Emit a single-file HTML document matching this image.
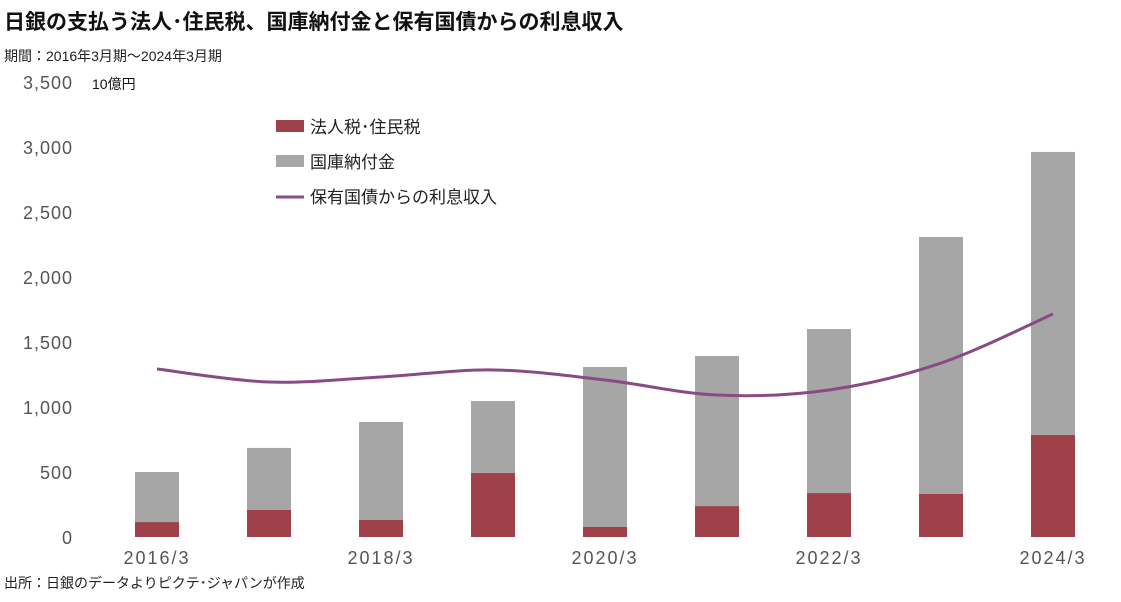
<!DOCTYPE html>
<html><head><meta charset="utf-8"><style>
body{margin:0;background:#fff;font-family:"Liberation Sans","Noto Sans CJK JP",sans-serif;}
svg text{font-family:"Liberation Sans","Noto Sans CJK JP",sans-serif;}
</style></head><body>
<svg id="chart" width="1121" height="597" viewBox="0 0 1121 597" xmlns="http://www.w3.org/2000/svg">
<text x="4" y="29" font-size="21" font-weight="bold" fill="#111">日銀の支払う法人･住民税、国庫納付金と保有国債からの利息収入</text>
<text x="4" y="61" font-size="14" fill="#222">期間：2016年3月期～2024年3月期</text>
<text x="92" y="89" font-size="14" fill="#111">10億円</text>
<text x="4" y="588" font-size="14" fill="#222">出所：日銀のデータよりピクテ･ジャパンが作成</text>
<g id="yaxis"></g>
<g id="xaxis"></g>
<g id="bars"></g>
<g id="line"></g>
<g>
<rect x="276" y="120" width="28" height="12" fill="#a0414a"/>
<text x="310" y="133" font-size="17" fill="#222">法人税･住民税</text>
<rect x="276" y="155" width="28" height="12" fill="#a6a6a6"/>
<text x="310" y="168" font-size="17" fill="#222">国庫納付金</text>
<line x1="276" y1="197" x2="304" y2="197" stroke="#8a4a86" stroke-width="3"/>
<text x="310" y="203" font-size="17" fill="#222">保有国債からの利息収入</text>
</g>
</svg>
<script>
const categories=["2016/3","2017/3","2018/3","2019/3","2020/3","2021/3","2022/3","2023/3","2024/3"];
const taxValues=[115,208,131,492,77,238,338,331,785];
const paymentValues=[385,477,754,554,1231,1154,1262,1977,2177];
const interestValues=[1292,1192,1231,1285,1208,1092,1131,1338,1715];
const yTicks=[0,500,1000,1500,2000,2500,3000,3500];
const yTickLabels=["0","500","1,000","1,500","2,000","2,500","3,000","3,500"];
const xLabelIdx=[0,2,4,6,8];
const NS="http://www.w3.org/2000/svg";
const y=v=>537-v*0.13;
const x=i=>157+i*112;
function mk(t,a,p){const e=document.createElementNS(NS,t);for(const k in a)e.setAttribute(k,a[k]);p.appendChild(e);return e;}
const ya=document.getElementById('yaxis');
yTicks.forEach((v,i)=>{const t=mk('text',{x:73,y:y(v)+7,'text-anchor':'end','font-size':18,fill:'#555','letter-spacing':'1'},ya);t.textContent=yTickLabels[i];

});
const xa=document.getElementById('xaxis');
xLabelIdx.forEach(i=>{const t=mk('text',{x:x(i),y:564,'text-anchor':'middle','font-size':18,fill:'#555','letter-spacing':'2'},xa);t.textContent=categories[i];

});
const bg=document.getElementById('bars');
categories.forEach((c,i)=>{
const r=mk('rect',{x:x(i)-22,y:y(taxValues[i]),width:44,height:537-y(taxValues[i]),fill:'#a0414a'},bg);


const top=taxValues[i]+paymentValues[i];
const g=mk('rect',{x:x(i)-22,y:y(top),width:44,height:y(taxValues[i])-y(top),fill:'#a6a6a6'},bg);

});
const pts=interestValues.map((v,i)=>[x(i),y(v)]);
let d='M'+pts[0][0]+','+pts[0][1];
for(let i=0;i<pts.length-1;i++){const p0=pts[Math.max(0,i-1)],p1=pts[i],p2=pts[i+1],p3=pts[Math.min(pts.length-1,i+2)];
d+=` C${p1[0]+(p2[0]-p0[0])/6},${p1[1]+(p2[1]-p0[1])/6} ${p2[0]-(p3[0]-p1[0])/6},${p2[1]-(p3[1]-p1[1])/6} ${p2[0]},${p2[1]}`;}
const pl=mk('path',{d:d,fill:'none',stroke:'#8a4a86','stroke-width':3},document.getElementById('line'));


</script>
</body></html>
